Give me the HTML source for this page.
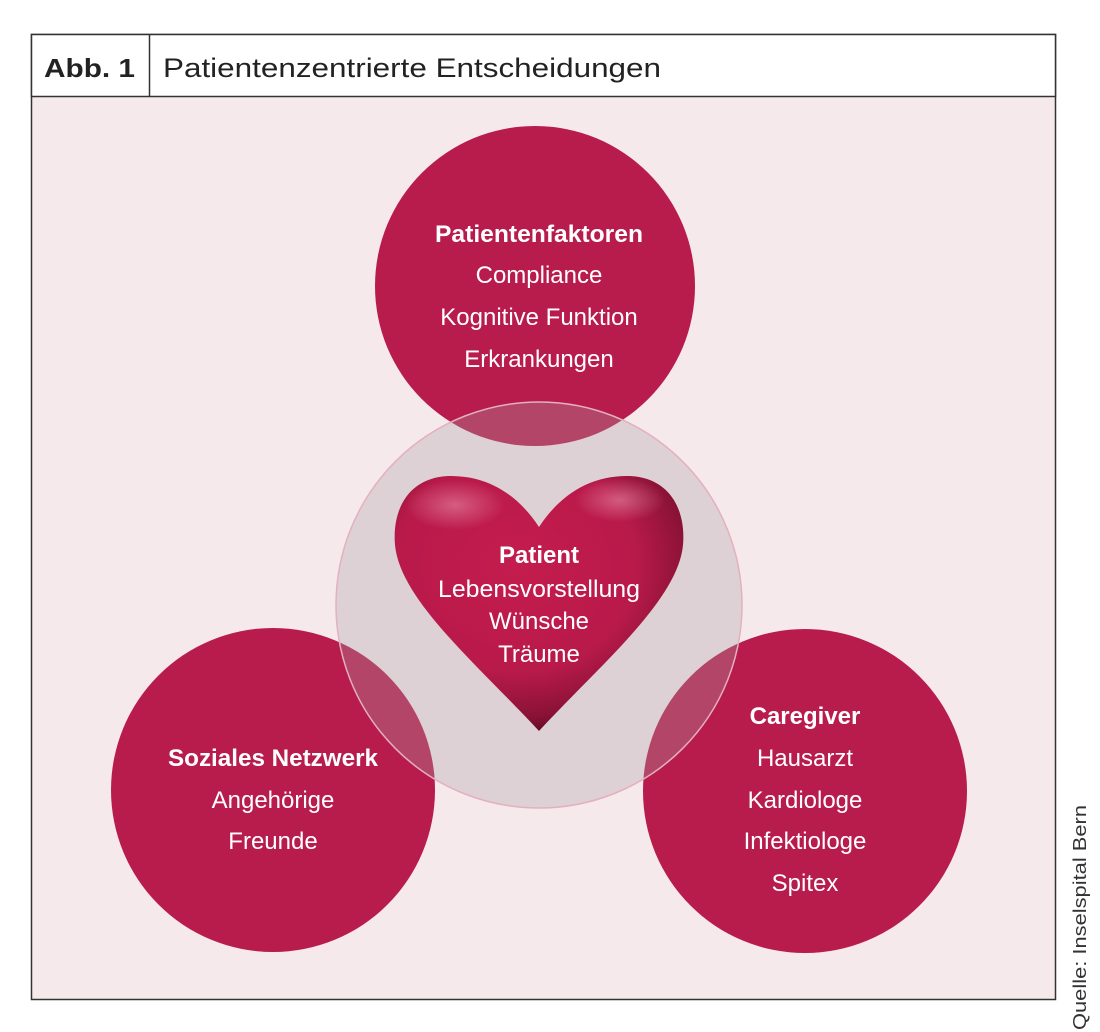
<!DOCTYPE html>
<html><head><meta charset="utf-8"><style>
body{margin:0;width:1100px;height:1032px;background:#fff;overflow:hidden}
svg{display:block}
text{font-family:"Liberation Sans",sans-serif}
</style></head><body>
<svg width="1100" height="1032" viewBox="0 0 1100 1032" xmlns="http://www.w3.org/2000/svg">
<defs>
<radialGradient id="hg" cx="0.42" cy="0.35" r="0.7">
<stop offset="0" stop-color="#c41c4e"/>
<stop offset="0.6" stop-color="#b81a4a"/>
<stop offset="0.85" stop-color="#8a1236"/>
<stop offset="1" stop-color="#4a0818"/>
</radialGradient>
<radialGradient id="hl" cx="0.5" cy="0.5" r="0.5">
<stop offset="0" stop-color="#f0a0b8" stop-opacity="0.5"/>
<stop offset="1" stop-color="#f0a0b8" stop-opacity="0"/>
</radialGradient>
</defs>
<rect x="31.5" y="34.5" width="1024" height="965" fill="#f6e9ec" stroke="#333" stroke-width="1.5"/>
<rect x="31.5" y="34.5" width="1024" height="62" fill="#fff" stroke="#333" stroke-width="1.5"/>
<line x1="149.5" y1="34.5" x2="149.5" y2="96.5" stroke="#333" stroke-width="1.5"/>
<text x="44" y="77" font-size="26" font-weight="bold" fill="#222" textLength="91" lengthAdjust="spacingAndGlyphs">Abb. 1</text>
<text x="163" y="77" font-size="27" fill="#222" textLength="498" lengthAdjust="spacingAndGlyphs">Patientenzentrierte Entscheidungen</text>

<circle cx="535" cy="286" r="160" fill="#b81c4c"/>
<circle cx="273" cy="790" r="162" fill="#b81c4c"/>
<circle cx="805" cy="791" r="162" fill="#b81c4c"/>
<circle cx="539" cy="605" r="203" fill="#a8a0a4" fill-opacity="0.32" stroke="#e4b0c0" stroke-width="1.5"/>

<path d="M539,527 C560,495 590,475 630,476 C670,478 686,510 683,545 C678,600 600,665 539,731 C478,665 400,600 395,545 C392,510 408,478 448,476 C488,475 518,495 539,527 Z" fill="url(#hg)"/>
<ellipse cx="455" cy="505" rx="50" ry="25" fill="url(#hl)"/>
<ellipse cx="620" cy="500" rx="45" ry="22" fill="url(#hl)"/>

<g fill="#fff" text-anchor="middle" font-size="24">
<text x="539" y="563" font-weight="bold">Patient</text>
<text x="539" y="597" textLength="202" lengthAdjust="spacingAndGlyphs">Lebensvorstellung</text>
<text x="539" y="629">Wünsche</text>
<text x="539" y="662">Träume</text>

<text x="539" y="242" font-weight="bold" textLength="208" lengthAdjust="spacingAndGlyphs">Patientenfaktoren</text>
<text x="539" y="283">Compliance</text>
<text x="539" y="325">Kognitive Funktion</text>
<text x="539" y="367">Erkrankungen</text>

<text x="273" y="766" font-weight="bold" textLength="210" lengthAdjust="spacingAndGlyphs">Soziales Netzwerk</text>
<text x="273" y="808">Angehörige</text>
<text x="273" y="849">Freunde</text>

<text x="805" y="724" font-weight="bold">Caregiver</text>
<text x="805" y="766">Hausarzt</text>
<text x="805" y="808">Kardiologe</text>
<text x="805" y="849">Infektiologe</text>
<text x="805" y="891">Spitex</text>
</g>
<text transform="translate(1086,1030) rotate(-90)" font-size="18" fill="#333" textLength="225" lengthAdjust="spacingAndGlyphs">Quelle: Inselspital Bern</text>
</svg>
</body></html>
